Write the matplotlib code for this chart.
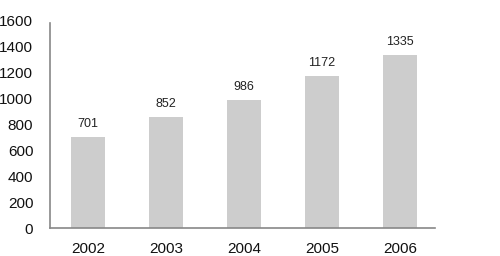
import matplotlib.pyplot as plt

years = ['2002', '2003', '2004', '2005', '2006']
values = [701, 852, 986, 1172, 1335]
yticks = [0, 200, 400, 600, 800, 1000, 1200, 1400, 1600]

plt.rcParams['font.family'] = ['Liberation Sans', 'DejaVu Sans']

fig = plt.figure(figsize=(5, 2.56), dpi=100)
ax = fig.add_axes([0.1, 0.109, 0.77, 0.8125])

x = list(range(len(years)))
bars = ax.bar(x, values, width=0.44, color='#cdcdcd', edgecolor='none')

# value labels above each bar
for xi, v in zip(x, values):
    ax.annotate(str(v), (xi, v), xytext=(0, 5), textcoords='offset points',
                ha='center', va='bottom', fontsize=9, color='#222222')

ax.set_xlim(-0.49, 4.45)
ax.set_ylim(0, 1600)
ax.set_xticks(x)
ax.set_xticklabels(years, fontsize=11)
ax.set_yticks(yticks)
ax.set_yticklabels([str(t) for t in yticks], fontsize=11)
ax.tick_params(axis='both', length=0, colors='#111111')
ax.tick_params(axis='x', pad=10)
ax.tick_params(axis='y', pad=12)

for side in ['top', 'right']:
    ax.spines[side].set_visible(False)
for side in ['left', 'bottom']:
    ax.spines[side].set_color('#888888')
    ax.spines[side].set_linewidth(1.2)
ax.spines['left'].set_bounds(0, 1580)

fig.savefig('out.png', dpi=100)
